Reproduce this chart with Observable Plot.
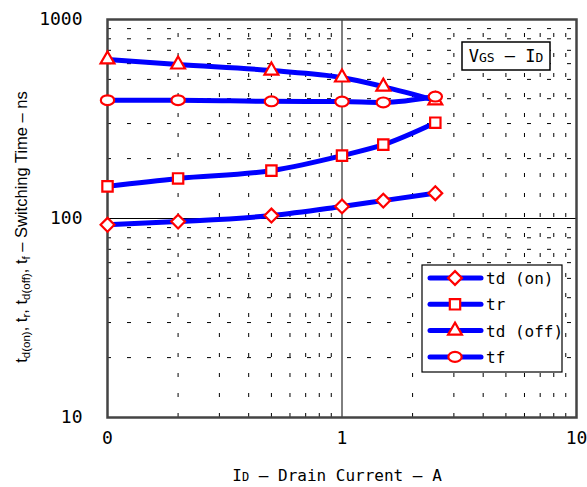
<!DOCTYPE html>
<html><head><meta charset="utf-8">
<script src="https://cdn.jsdelivr.net/npm/d3@7"></script>
<script src="https://cdn.jsdelivr.net/npm/@observablehq/plot@0.6"></script>
<style>
body{margin:0;background:#fff;}
#chart{position:relative;width:587px;height:487px;}
</style>
</head><body><div id="chart"></div>
<script>
// ---- data ----
const current = [0.1, 0.2, 0.5, 1, 1.5, 2.5];
const tdOn  = [93, 96.5, 103.5, 115, 123, 134];
const tr    = [145, 159, 174, 207, 235, 303];
const tdOff = [630, 594, 554, 511, 460, 392];
const tf    = [393, 393, 388, 387, 383, 410];
const seriesNames = ["td (on)", "tr", "td (off)", "tf"];
const xTicks = [0.1, 1, 10];
const xTickLabels = ["0", "1", "10"];
const yTicks = [10, 100, 1000];
const yTickLabels = ["10", "100", "1000"];
const xMinor = [0.2, 0.3, 0.4, 0.5, 0.6, 0.7, 0.8, 0.9, 2, 3, 4, 5, 6, 7, 8, 9];
const yMinor = [20, 30, 40, 50, 60, 70, 80, 90, 200, 300, 400, 500, 600, 700, 800, 900];
const xMajorGrid = [1];
const yMajorGrid = [100];

const seriesValues = [tdOn, tr, tdOff, tf];
const data = [];
seriesNames.forEach((s, k) => current.forEach((x, i) => data.push({series: s, x, y: seriesValues[k][i]})));
const xLabelMap = new Map(xTicks.map((t, i) => [t, xTickLabels[i]]));
const yLabelMap = new Map(yTicks.map((t, i) => [t, yTickLabels[i]]));

// ellipse symbol (wider than tall)
const ellipse = {
  draw(ctx, size) {
    const r = Math.sqrt(size / Math.PI);
    const rx = r * 1.15, ry = r * 0.85, k = 0.5523;
    ctx.moveTo(rx, 0);
    ctx.bezierCurveTo(rx, ry * k, rx * k, ry, 0, ry);
    ctx.bezierCurveTo(-rx * k, ry, -rx, ry * k, -rx, 0);
    ctx.bezierCurveTo(-rx, -ry * k, -rx * k, -ry, 0, -ry);
    ctx.bezierCurveTo(rx * k, -ry, rx, -ry * k, rx, 0);
    ctx.closePath();
  }
};
const symbols = [d3.symbolDiamond2, d3.symbolSquare2, d3.symbolTriangle2, ellipse];
const sizes = [6.2, 6.6, 6.6, 5.8];

const MONO = "'DejaVu Sans Mono', monospace";
const SANS = "'Liberation Sans', Arial, sans-serif";

const dotMarks = seriesNames.map((s, k) =>
  Plot.dot(data.filter(d => d.series === s), {
    x: "x", y: "y", symbol: symbols[k], r: sizes[k],
    stroke: "#ff0000", fill: "white", strokeWidth: 2.2
  })
);

const plot = Plot.plot({
  width: 587, height: 487,
  marginLeft: 107, marginRight: 11, marginTop: 19, marginBottom: 70,
  x: {type: "log", domain: [0.1, 10]},
  y: {type: "log", domain: [10, 1000]},
  style: {fontFamily: MONO, fontSize: "17px", color: "#000", background: "#fff"},
  marks: [
    Plot.ruleX(xMinor, {y1: 10, y2: 1000, stroke: "#000", strokeWidth: 1, strokeDasharray: "4,16"}),
    Plot.ruleY(yMinor, {x1: 0.1, x2: 10, stroke: "#000", strokeWidth: 1, strokeDasharray: "4,16"}),
    Plot.ruleX(xMajorGrid, {stroke: "#000", strokeWidth: 1}),
    Plot.ruleY(yMajorGrid, {stroke: "#000", strokeWidth: 1}),
    Plot.frame({stroke: "#444", strokeWidth: 2.5}),
    Plot.line(data, {x: "x", y: "y", z: "series", stroke: "#0000ff", strokeWidth: 5, curve: "monotone-x"}),
    ...dotMarks,
    Plot.axisX({ticks: xTicks, tickSize: 0, tickPadding: 14, tickFormat: d => xLabelMap.get(d), label: null, fontSize: 18}),
    Plot.axisY({ticks: yTicks, tickSize: 0, tickPadding: 25, tickFormat: d => yLabelMap.get(d), label: null, fontSize: 18})
  ]
});
document.getElementById("chart").appendChild(plot);

const svg = d3.select(plot);

// x title
const xt = svg.append("text").attr("x", 337).attr("y", 481).attr("text-anchor", "middle")
  .attr("font-family", MONO).attr("font-size", 16).attr("fill", "#000");
xt.append("tspan").text("I");
xt.append("tspan").attr("font-size", 12).text("D");
xt.append("tspan").text(" – Drain Current – A");

// y title
const yt = svg.append("text").attr("transform", "translate(27,227) rotate(-90)").attr("text-anchor", "middle")
  .attr("font-family", SANS).attr("font-size", 16.5).attr("fill", "#000");
const parts = [["t", "d(on)", ", "], ["t", "r", ", "], ["t", "d(off)", ", "], ["t", "f", " – Switching Time – ns"]];
parts.forEach(([a, sub, after]) => {
  yt.append("tspan").text(a);
  yt.append("tspan").attr("font-size", 11.5).attr("dy", 3).text(sub);
  yt.append("tspan").attr("dy", -3).text(after);
});

// annotation box
svg.append("rect").attr("x", 462).attr("y", 42).attr("width", 88).attr("height", 28)
  .attr("fill", "white").attr("stroke", "#000").attr("stroke-width", 1.5);
const at = svg.append("text").attr("x", 506).attr("y", 62).attr("text-anchor", "middle")
  .attr("font-family", MONO).attr("font-size", 17).attr("fill", "#000");
at.append("tspan").text("V");
at.append("tspan").attr("font-size", 13).text("GS");
at.append("tspan").text(" – I");
at.append("tspan").attr("font-size", 13).text("D");

// legend
const lg = svg.append("g");
lg.append("rect").attr("x", 422).attr("y", 265).attr("width", 140).attr("height", 107)
  .attr("fill", "white").attr("stroke", "#000").attr("stroke-width", 1.2);
seriesNames.forEach((s, k) => {
  const cy = 278 + k * 26.3;
  lg.append("line").attr("x1", 430).attr("x2", 481).attr("y1", cy).attr("y2", cy)
    .attr("stroke", "#0000ff").attr("stroke-width", 5).attr("stroke-linecap", "round");
  lg.append("path").attr("transform", `translate(455,${cy})`)
    .attr("d", d3.symbol(symbols[k], Math.PI * sizes[k] * sizes[k])())
    .attr("fill", "white").attr("stroke", "#ff0000").attr("stroke-width", 2.2);
  lg.append("text").attr("x", 486).attr("y", cy + 6).attr("text-anchor", "start")
    .attr("font-family", MONO).attr("font-size", 16).attr("fill", "#000").text(s);
});
</script>
</body></html>
